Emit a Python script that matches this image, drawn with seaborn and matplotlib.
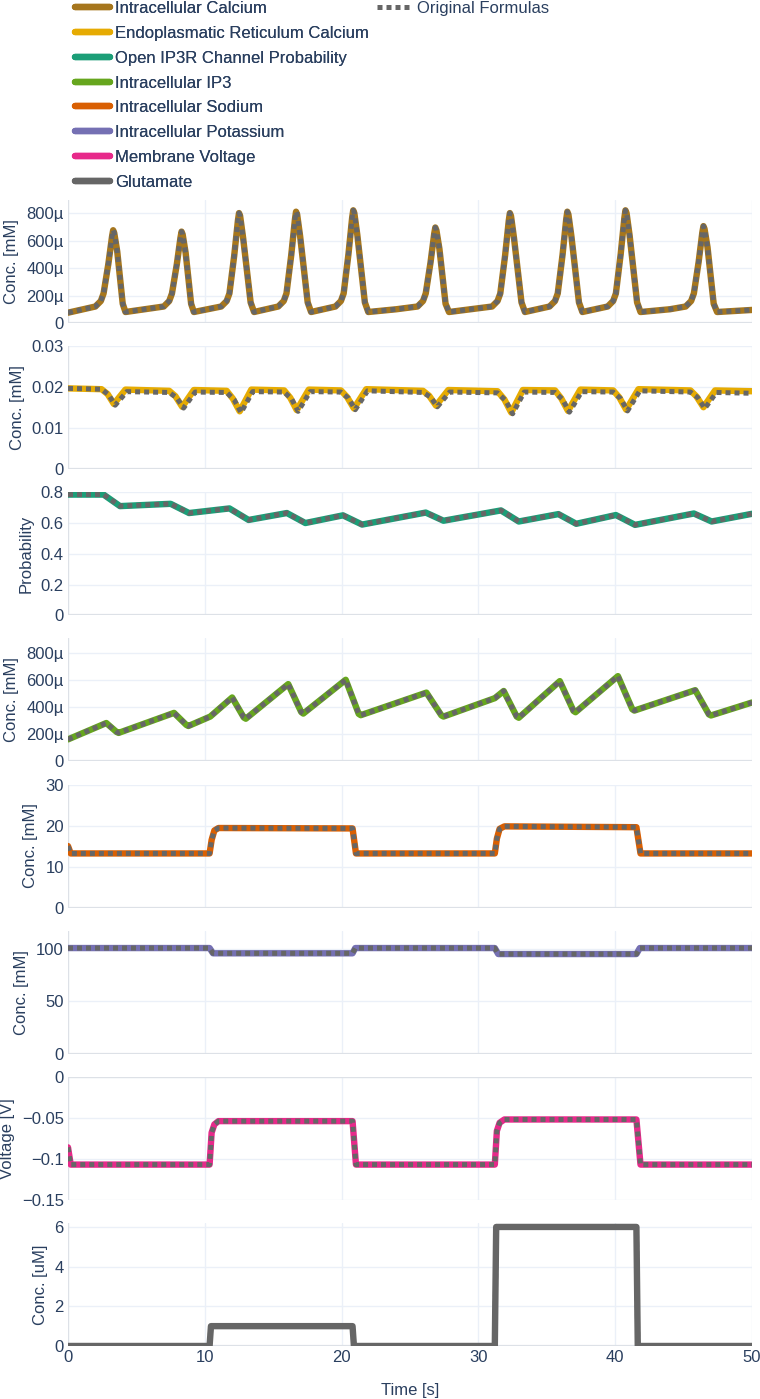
"""
Astrocyte model traces: new implementation vs. original formulas.
Eight stacked panels sharing the time axis, saved as out.png.
"""

import matplotlib
matplotlib.use("Agg")
import matplotlib.pyplot as plt
from matplotlib.lines import Line2D
from matplotlib.ticker import FuncFormatter
import numpy as np
import seaborn as sns

TEXT = "#2a3f5f"
GRID = "#ebf0f8"
ZERO = "#dde1e7"
ORIG_COLOR = "#666666"

LABELS = [
    "Intracellular Calcium",
    "Endoplasmatic Reticulum Calcium",
    "Open IP3R Channel Probability",
    "Intracellular IP3",
    "Intracellular Sodium",
    "Intracellular Potassium",
    "Membrane Voltage",
    "Glutamate",
]
COLORS = ["#a6761d", "#e6ab02", "#1b9e77", "#66a61e",
          "#d95f02", "#7570b3", "#e7298a", "#666666"]
YLABELS = ["Conc. [mM]", "Conc. [mM]", "Probability", "Conc. [mM]",
           "Conc. [mM]", "Conc. [mM]", "Voltage [V]", "Conc. [uM]"]

# --- intracellular calcium (values in µ of mM) ---
CA_T = [0.0, 2.0, 2.4, 2.6, 2.95, 3.22, 3.3, 3.38, 3.6, 4.0, 4.2,
        7.0, 7.4, 7.6, 7.95, 8.22, 8.3, 8.38, 8.6, 9.0, 9.2,
        11.2, 11.6, 11.8, 12.15, 12.42, 12.5, 12.58, 12.8, 13.35, 13.6,
        15.37, 15.77, 15.97, 16.32, 16.59, 16.67, 16.75, 16.97, 17.52, 17.77,
        19.55, 19.95, 20.15, 20.5, 20.77, 20.85, 20.93, 21.15, 21.7, 21.95,
        24.0, 25.55, 25.95, 26.15, 26.5, 26.77, 26.85, 26.93, 27.15, 27.6, 27.85,
        31.0, 31.4, 31.6, 31.95, 32.22, 32.3, 32.38, 32.6, 33.15, 33.4,
        35.2, 35.6, 35.8, 36.15, 36.42, 36.5, 36.58, 36.8, 37.35, 37.6,
        39.45, 39.85, 40.05, 40.4, 40.67, 40.75, 40.83, 41.05, 41.6, 41.85,
        44.0, 45.15, 45.55, 45.75, 46.1, 46.37, 46.45, 46.53, 46.75, 47.2, 47.45,
        50.0]
CA_V = [75, 120, 160, 215, 430, 630, 675, 655, 520, 140, 80,
        120, 160, 215, 425, 620, 665, 645, 510, 140, 80,
        120, 160, 215, 490, 745, 800, 780, 620, 150, 80,
        120, 160, 215, 495, 755, 810, 790, 630, 150, 80,
        120, 160, 215, 500, 765, 820, 800, 640, 150, 80,
        100, 120, 160, 215, 440, 650, 695, 675, 540, 140, 80,
        120, 160, 215, 490, 745, 800, 780, 620, 150, 80,
        120, 160, 215, 495, 755, 810, 790, 630, 150, 80,
        120, 160, 215, 500, 765, 820, 800, 640, 150, 80,
        100, 120, 160, 215, 445, 660, 705, 685, 550, 140, 80,
        95]

# --- ER calcium ---
ER_T = [0.0, 2.45, 2.9, 3.35, 4.2, 7.4, 7.85, 8.35, 9.2, 11.6, 12.05, 12.55, 13.4,
        15.8, 16.25, 16.72, 17.6, 19.95, 20.4, 20.9, 21.8, 25.95, 26.4, 26.9, 27.8,
        31.4, 31.9, 32.4, 33.25, 35.6, 36.05, 36.55, 37.45, 39.85, 40.3, 40.8, 41.7,
        45.5, 45.95, 46.45, 47.3, 50.0]
ER_V = [0.0197, 0.0195, 0.0183, 0.0159, 0.0194, 0.0191, 0.0178, 0.0152, 0.0193,
        0.0191, 0.0172, 0.0141, 0.0194, 0.0192, 0.0174, 0.0144, 0.0194,
        0.0192, 0.0176, 0.0148, 0.0195, 0.0191, 0.0179, 0.0155, 0.0193,
        0.0190, 0.0170, 0.0138, 0.0193, 0.0192, 0.0173, 0.0142, 0.0194,
        0.0192, 0.0175, 0.0145, 0.0195, 0.0192, 0.0177, 0.0151, 0.0192, 0.0190]
ER_ORIG_T = [0.0, 2.45, 2.95, 3.45, 4.3, 7.4, 7.95, 8.45, 9.3, 11.6, 12.15, 12.65, 13.5,
             15.8, 16.35, 16.82, 17.7, 19.95, 20.5, 21.0, 21.9, 25.95, 26.5, 27.0, 27.9,
             31.4, 32.0, 32.5, 33.35, 35.6, 36.15, 36.65, 37.55, 39.85, 40.4, 40.9, 41.8,
             45.5, 46.05, 46.55, 47.4, 50.0]
ER_ORIG_V = [0.0197, 0.0195, 0.0182, 0.0156, 0.0189, 0.0187, 0.0174, 0.0149, 0.0188,
             0.0187, 0.0169, 0.0138, 0.0189, 0.0188, 0.0171, 0.0141, 0.0189,
             0.0188, 0.0173, 0.0145, 0.0191, 0.0187, 0.0176, 0.0152, 0.0188,
             0.0186, 0.0167, 0.0135, 0.0188, 0.0187, 0.0170, 0.0139, 0.0189,
             0.0188, 0.0172, 0.0142, 0.0191, 0.0188, 0.0174, 0.0148, 0.0187, 0.0185]

# --- open IP3R probability ---
P_T = [0.0, 2.6, 3.8, 7.5, 8.85, 11.8, 13.2, 16.0, 17.35, 20.1, 21.5,
       26.15, 27.45, 31.65, 32.95, 35.85, 37.15, 40.05, 41.45, 45.75, 47.05, 50.0]
P_V = [0.785, 0.785, 0.71, 0.725, 0.665, 0.695, 0.62, 0.665, 0.60, 0.65, 0.59,
       0.668, 0.615, 0.682, 0.61, 0.658, 0.595, 0.652, 0.588, 0.662, 0.61, 0.66]

# --- IP3 (values in µ of mM) ---
IP3_T = [0.0, 2.8, 3.55, 3.7, 7.75, 8.65, 8.8, 10.4, 12.0, 12.85, 13.0,
         16.1, 17.05, 17.2, 20.3, 21.25, 21.4, 26.2, 27.3, 27.45,
         31.2, 31.85, 32.8, 32.95, 35.95, 36.95, 37.1, 40.2, 41.25, 41.4,
         45.85, 46.85, 47.0, 50.0]
IP3_V = [163, 284, 218, 211, 359, 270, 262, 332, 473, 325, 316,
         572, 365, 354, 604, 352, 342, 509, 340, 332,
         468, 521, 332, 323, 594, 374, 364, 631, 386, 376,
         527, 348, 340, 436]

# --- sodium ---
NA_T = [0.0, 0.2, 10.35, 10.5, 10.7, 11.0, 20.8, 21.05,
        31.2, 31.35, 31.55, 31.9, 41.55, 41.85, 50.0]
NA_V = [15.0, 13.2, 13.2, 16.5, 18.8, 19.4, 19.3, 13.2,
        13.2, 16.8, 19.2, 19.8, 19.6, 13.2, 13.2]

# --- potassium ---
K_T = [0.0, 10.35, 10.6, 20.8, 21.0, 31.2, 31.45, 41.55, 41.8, 50.0]
K_V = [100.5, 100.5, 95.5, 95.5, 100.5, 100.5, 94.8, 94.8, 100.5, 100.5]

# --- membrane voltage ---
V_T = [0.0, 0.2, 10.35, 10.5, 10.7, 11.0, 20.8, 21.05,
       31.2, 31.35, 31.55, 31.9, 41.55, 41.85, 50.0]
V_V = [-0.086, -0.107, -0.107, -0.068, -0.058, -0.054, -0.054, -0.107,
       -0.107, -0.066, -0.056, -0.052, -0.052, -0.107, -0.107]

# --- glutamate ---
GLU_T = [0.0, 10.35, 10.45, 20.8, 20.9, 31.2, 31.3, 41.55, 41.65, 50.0]
GLU_V = [0, 0, 1, 1, 0, 0, 6, 6, 0, 0]

YLIMS = [(0, 0.000895), (0, 0.03), (0, 0.8), (0, 0.00091),
         (0, 30), (0, 117), (-0.15, 0), (0, 6.2)]
YTICKS = [
    [0, 200e-6, 400e-6, 600e-6, 800e-6],
    [0, 0.01, 0.02, 0.03],
    [0, 0.2, 0.4, 0.6, 0.8],
    [0, 200e-6, 400e-6, 600e-6, 800e-6],
    [0, 10, 20, 30],
    [0, 50, 100],
    [-0.15, -0.1, -0.05, 0],
    [0, 2, 4, 6],
]
XTICKS = [0, 10, 20, 30, 40, 50]

LW = 4.6
ORIG_LW = 3.6
ORIG_DASH = (0, (1.0, 0.8))


def micro_fmt(v, _):
    if abs(v) < 1e-12:
        return "0"
    return f"{round(v * 1e6):d}µ"


def plain_fmt(v, _):
    return f"{v:g}".replace("-", "\u2212")


def main():
    sns.set_theme(style="white")
    plt.rcParams["font.family"] = ["Liberation Sans", "DejaVu Sans"]
    plt.rcParams["text.color"] = TEXT
    plt.rcParams["axes.labelcolor"] = TEXT
    plt.rcParams["xtick.color"] = TEXT
    plt.rcParams["ytick.color"] = TEXT

    micro = 1e-6
    panels = [
        (np.array(CA_T), np.array(CA_V) * micro, None, None),
        (np.array(ER_T), np.array(ER_V), np.array(ER_ORIG_T), np.array(ER_ORIG_V)),
        (np.array(P_T), np.array(P_V), None, None),
        (np.array(IP3_T), np.array(IP3_V) * micro, None, None),
        (np.array(NA_T), np.array(NA_V), None, None),
        (np.array(K_T), np.array(K_V), None, None),
        (np.array(V_T), np.array(V_V), None, None),
        (np.array(GLU_T), np.array(GLU_V), None, None),
    ]

    W, H = 760, 1399
    fig = plt.figure(figsize=(W / 100, H / 100), dpi=100)
    left, width = 68, 684
    top0, step, height = 200, 146.14, 123

    axes = []
    for i, (t, y, ot, oy) in enumerate(panels):
        top = top0 + i * step
        ax = fig.add_axes([left / W, 1 - (top + height) / H, width / W, height / H])
        axes.append(ax)

        sns.lineplot(x=t, y=y, ax=ax, color=COLORS[i], lw=LW,
                     estimator=None, sort=False, zorder=3)
        if ot is None:
            ot, oy = t, y
        sns.lineplot(x=ot, y=oy, ax=ax, color=ORIG_COLOR, lw=ORIG_LW,
                     linestyle=ORIG_DASH, dash_capstyle="butt",
                     estimator=None, sort=False, zorder=4)

        ax.set_xlim(0, 50)
        ax.set_ylim(*YLIMS[i])
        ax.set_yticks(YTICKS[i])
        ax.set_xticks(XTICKS)
        fmt = micro_fmt if i in (0, 3) else plain_fmt
        ax.yaxis.set_major_formatter(FuncFormatter(fmt))
        ax.xaxis.set_major_formatter(FuncFormatter(plain_fmt))

        for s in ax.spines.values():
            s.set_visible(False)
        ax.grid(True, color=GRID, lw=1.0, zorder=0)
        ax.axhline(0, color=ZERO, lw=1.6, zorder=1)
        ax.axvline(0, color=ZERO, lw=1.6, zorder=1)
        ax.tick_params(axis="both", length=0, labelsize=12, pad=3)
        ax.set_ylabel(YLABELS[i], fontsize=12, labelpad=5)
        ax.set_xlabel("")
        if i < len(panels) - 1:
            ax.tick_params(axis="x", labelbottom=False)

    axes[-1].set_xlabel("Time [s]", fontsize=12, labelpad=13)

    # legend: eight traces in the first column, reference style in the second
    handles = [Line2D([], [], color=c, lw=LW) for c in COLORS]
    leg = fig.legend(handles, LABELS, loc="upper left",
                     bbox_to_anchor=(75 / W, 1 - 1 / H), frameon=False,
                     fontsize=12, handlelength=2.1, handletextpad=0.3,
                     labelspacing=0.59, borderpad=0, borderaxespad=0)
    fig.add_artist(leg)
    orig_handle = Line2D([], [], color=ORIG_COLOR, lw=ORIG_LW,
                         linestyle=ORIG_DASH, dash_capstyle="butt")
    fig.legend([orig_handle], ["Original Formulas"], loc="upper left",
               bbox_to_anchor=(377 / W, 1 - 1 / H), frameon=False,
               fontsize=12, handlelength=2.1, handletextpad=0.3,
               borderpad=0, borderaxespad=0)

    fig.savefig("out.png", dpi=100)
    plt.close(fig)


if __name__ == "__main__":
    main()
